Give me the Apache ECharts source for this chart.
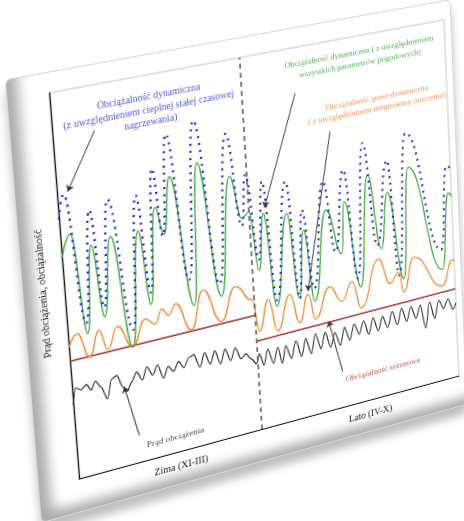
<!DOCTYPE html>
<html>
<head>
<meta charset="utf-8">
<script src="https://cdn.jsdelivr.net/npm/echarts@6/dist/echarts.min.js"></script>
<style>
  html, body { margin: 0; padding: 0; background: #fff; overflow: hidden; }
  #slide {
    position: absolute; left: 0; top: 0;
    width: 443px; height: 432px;
    background: #fff;
    border: 1px solid #d8d8d8;
    border-radius: 5px;
    transform-origin: 0 0;
    box-shadow: inset 16px -14px 12px -6px rgba(0,0,0,0.33), 0 10px 10px rgba(0,0,0,0.25);
  }
  #chart { position: absolute; left: 0; top: 0; width: 443px; height: 432px; }
</style>
</head>
<body>
<div id="slide"><div id="chart"></div></div>
<script>
// time axis 0..100 (winter 0..46, summer 46..100), load 0..100
var seasons = ['Zima (XI-III)', 'Lato (IV-X)'];
var seasonSplit = 46;

var dynThermal = [[0,68],[1.5,74],[4.5,40],[7.2,68.7],[9,43],[11.6,70.4],[15.6,35.4],[18.4,69.9],[20.5,44],[22.7,75.9],
  [24.3,58],[26.6,84],[30,45],[33.5,86.1],[37.5,42],[41.3,81],[44,56],[45.6,69.3],[47.8,46],[49.7,66.6],[51.8,34],
  [55.7,65.2],[57.8,33],[59.5,56.7],[61.7,34.8],[65.4,63.1],[67.8,43.3],[70.9,65],[73.4,34.6],[76.4,71.1],[79,42.4],
  [82.7,65],[84.6,32.7],[88,71.3],[96.6,37],[98.9,59.9],[100,59]];

var dynWeather = [[0,58],[2.4,63.7],[4.7,37.2],[7,59.7],[9,40.5],[11.7,60.8],[15.2,30.8],[18.4,60.7],[20.3,40.9],[22.8,65.8],
  [24.6,58.3],[26.8,72.9],[30.9,37.9],[33.7,75],[37.8,38.6],[41.6,69.7],[44.1,58],[46,59.3],[47.7,43.1],[49.6,58],
  [51.7,32.4],[55.6,56.7],[57.7,33.1],[59.7,51.2],[61.7,31.2],[65.8,55.2],[69.5,42.4],[70.7,56.4],[74.1,32.1],[77.3,62.2],
  [80.1,41.2],[82.4,56.3],[85.9,31.4],[88.3,61.9],[96.7,31.4],[99.1,52.3],[100,51.2]];

var quasiDyn = [[0,34.8],[2.2,37.8],[4.7,31.1],[7.4,37.4],[9.1,31.8],[11.8,37.2],[15.2,31],[18.6,37.4],[21,35.5],[22.8,39],
  [24.4,36.9],[26.3,39.5],[29.8,31.6],[33.2,41.4],[37.4,31.9],[41.3,40.3],[45.5,35.7],[46.9,26.8],[49.6,34.7],[51.6,25.6],
  [55.2,34.7],[57.4,26.4],[60,33.5],[61.6,26.3],[65.7,34.2],[68.8,29.4],[71.8,34.1],[73.9,26.2],[79.2,38.6],[82,31],
  [84.5,33.5],[85.7,27.7],[88.7,36.7],[96.5,26.8],[99.5,33.4],[100,33]];

var seasonalWinter = [[0,31.2],[46,31.3]];
var seasonalSummer = [[46,24.3],[100,25]];

var current = [[0,19.8],[0.8,23.9],[2.1,23.1],[3.4,24.1],[4.5,22.4],[5.6,24.4],[6.9,22.4],[8.2,19],[9.5,23.9],[10.8,24.5],
  [12.1,21],[13,19.6],[14.3,21.8],[15.6,24.1],[16.9,21.6],[18.2,24.8],[19.5,22.2],[20.8,24.6],[22.1,20.7],[23.4,23.5],
  [24.7,21.8],[26,24.1],[27.3,22.1],[28.6,24.4],[29.9,24.9],[31.3,21.1],[32.6,24.7],[33.9,21.3],[35.2,24.5],[36.5,20.6],
  [37.8,24.3],[39.1,20.8],[40.4,24],[41.7,20.6],[43,21.6],[44.3,19.9],[45.6,18.2],[46.5,20.7],[47.5,17.3],[48.7,21.4],
  [50,17.1],[51.3,21.2],[52.3,16.5],[53.4,21.1],[54.7,17.2],[56.1,21.7],[57.4,17],[58.7,21.6],[60,17.1],[61.3,22.3],
  [62.6,17.8],[63.9,22],[65.2,17.5],[66.5,21.3],[67.8,17.3],[69.1,22],[70.4,18.1],[71.7,22.3],[73,19.1],[74.3,22.5],
  [75.6,18.4],[76.9,22.7],[78.2,18.7],[79.5,22.4],[80.8,18.9],[82.2,23.1],[83.5,19],[84.8,23.3],[86.1,19.3],[87.4,23.1],
  [88.7,19.5],[90,22.9],[91.3,16],[92.6,23.1],[93.9,18.1],[95.2,22.9],[96.5,20.2],[97.8,22.7],[99.1,19.4],[100,21]];

var FONT = 'Liberation Serif';

// plot-area corners on the photographed slide (perspective)
function solve(A, b) {
  var n = b.length, M = A.map(function (r, i) { return r.concat([b[i]]); });
  for (var c = 0; c < n; c++) {
    var p = c;
    for (var r = c + 1; r < n; r++) if (Math.abs(M[r][c]) > Math.abs(M[p][c])) p = r;
    var t = M[c]; M[c] = M[p]; M[p] = t;
    for (var r2 = 0; r2 < n; r2++) {
      if (r2 === c) continue;
      var f = M[r2][c] / M[c][c];
      for (var k = c; k <= n; k++) M[r2][k] -= f * M[c][k];
    }
  }
  return M.map(function (r, i) { return r[n] / r[i]; });
}
function homography(src, dst) {
  var A = [], b = [];
  for (var i = 0; i < 4; i++) {
    var x = src[i][0], y = src[i][1], X = dst[i][0], Y = dst[i][1];
    A.push([x, y, 1, 0, 0, 0, -x * X, -y * X]); b.push(X);
    A.push([0, 0, 0, x, y, 1, -x * Y, -y * Y]); b.push(Y);
  }
  var h = solve(A, b);
  return 'matrix3d(' + [h[0], h[3], 0, h[6], h[1], h[4], 0, h[7], 0, 0, 1, 0, h[2], h[5], 0, 1].join(',') + ')';
}
var gl = 38, gt = 19, gr = 7, gb = 33, W = 443, H = 432;
document.getElementById('slide').style.transform = homography(
  [[gl, gt], [W - gr, gt], [W - gr, H - gb], [gl, H - gb]],
  [[48, 92], [443, 19], [458, 375], [78, 478]]
);

function note(x, y, text, color, size) {
  return {
    value: [x, y],
    label: { show: true, position: 'inside', formatter: text, color: color, fontSize: size,
      lineHeight: size + 3, align: 'center', verticalAlign: 'middle', fontFamily: FONT }
  };
}

var myChart = echarts.init(document.getElementById('chart'));
var option = {
  animation: false,
  grid: { left: gl, top: gt, right: gr, bottom: gb, show: true, borderColor: '#c4c4c4', borderWidth: 1 },
  xAxis: [
    { type: 'value', min: 0, max: 100, axisLine: { show: true, onZero: false, lineStyle: { color: '#111', width: 1.2 } },
      axisTick: { show: false }, axisLabel: { show: false }, splitLine: { show: false } },
    { type: 'category', data: seasons, position: 'bottom', axisLine: { show: false }, axisTick: { show: false },
      axisLabel: { color: '#222', fontSize: 10, fontFamily: FONT, margin: 10 } }
  ],
  yAxis: {
    type: 'value', min: 0, max: 100,
    name: 'Prąd obciążenia, obciążalność', nameLocation: 'middle', nameGap: 14,
    nameTextStyle: { color: '#222', fontSize: 10.5, fontFamily: FONT },
    axisLine: { show: true, onZero: false, lineStyle: { color: '#111', width: 1.2 } },
    axisTick: { show: false }, axisLabel: { show: false }, splitLine: { show: false }
  },
  series: [
    { type: 'line', data: seasonalWinter, showSymbol: false, lineStyle: { color: '#a82828', width: 1.5 },
      markLine: { silent: true, symbol: 'none', label: { show: false },
        lineStyle: { color: '#555', type: [5, 4], width: 1.5 }, data: [{ xAxis: seasonSplit }] } },
    { type: 'line', data: seasonalSummer, showSymbol: false, lineStyle: { color: '#a82828', width: 1.5 } },
    { type: 'line', data: current, smooth: 0.3, smoothMonotone: 'x', showSymbol: false, lineStyle: { color: '#222', width: 1.1 } },
    { type: 'line', data: quasiDyn, smooth: 0.5, smoothMonotone: 'x', showSymbol: false, lineStyle: { color: '#f0852c', width: 1.3 } },
    { type: 'line', data: dynWeather, smooth: 0.5, smoothMonotone: 'x', showSymbol: false, lineStyle: { color: '#3ca83c', width: 1.3 } },
    { type: 'line', data: dynThermal, smooth: 0.5, smoothMonotone: 'x', showSymbol: false, lineStyle: { color: '#1f1fd6', width: 2.2, type: [2, 5] } },
    { type: 'lines', coordinateSystem: 'cartesian2d', silent: true, symbol: ['none', 'arrow'], symbolSize: 6,
      lineStyle: { color: '#333', width: 1, opacity: 1 },
      data: [
        { coords: [[9.8, 88.5], [2.5, 74.5]] },
        { coords: [[59.5, 88], [50, 59.5]] },
        { coords: [[68, 76], [60, 34.5]] },
        { coords: [[68, 10], [65, 24.8]] },
        { coords: [[15.2, 7.2], [12.4, 21]] }
      ] },
    { type: 'scatter', symbolSize: 0, silent: true,
      data: [
        note(23.3, 91, 'Obciążalność dynamiczna\n(z uwzględnieniem cieplnej stałej czasowej\nnagrzewania)', '#2a2ad0', 9.5),
        note(77, 94, 'Obciążalność dynamiczna ( z uwzględnieniem\nwszystkich parametrów pogodowych)', '#2f9a2f', 8.5),
        note(81, 81, 'Obciążalność quasi-dynamiczna\n( z uwzględnieniem temperatury otoczenia)', '#f07a28', 8.5),
        note(79, 7.5, 'Obciążalność sezonowa', '#b02a2a', 8.5),
        note(24, 4, 'Prąd obciążenia', '#222', 9)
      ] }
  ]
};
myChart.setOption(option);
</script>
</body>
</html>
